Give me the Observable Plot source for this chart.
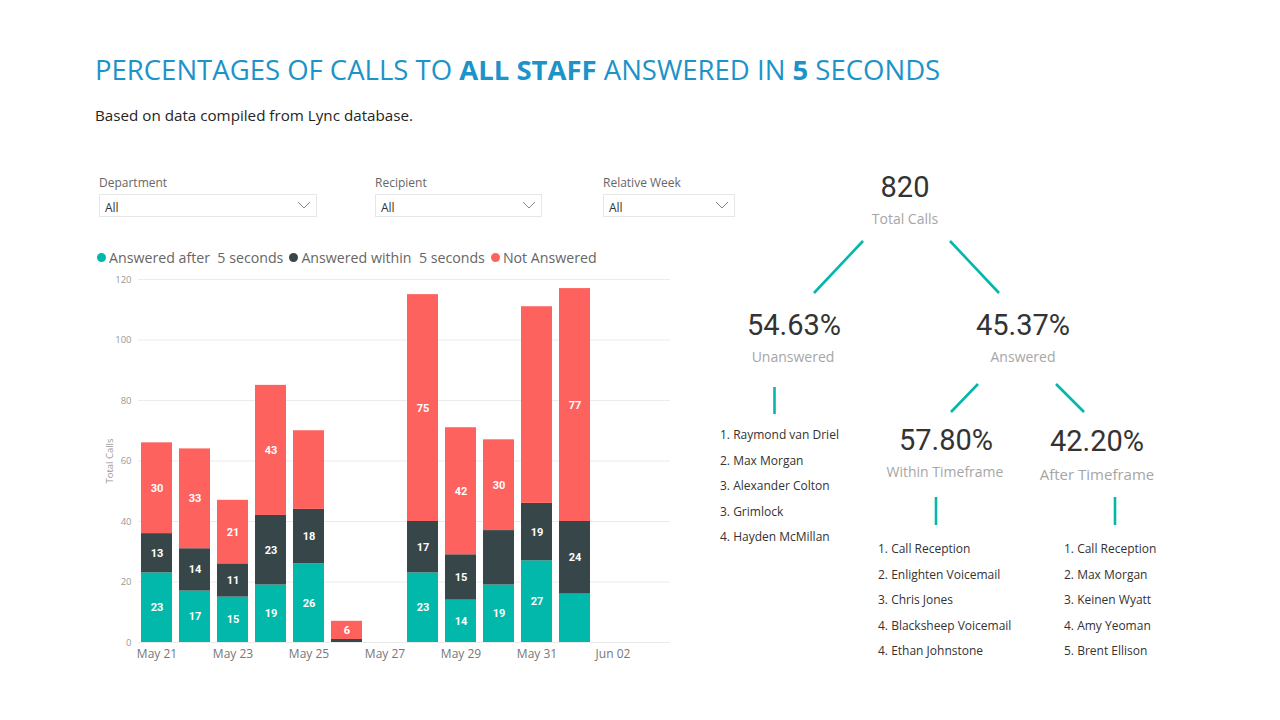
<!DOCTYPE html>
<html>
<head>
<meta charset="utf-8">
<script src="https://cdn.jsdelivr.net/npm/d3@7"></script>
<script src="https://cdn.jsdelivr.net/npm/@observablehq/plot@0.6"></script>
<style>
  html, body { margin: 0; padding: 0; background: #fff; }
  #page { position: relative; width: 1280px; height: 720px; overflow: hidden; font-family: "Open Sans", sans-serif; }
  .abs { position: absolute; white-space: nowrap; }
  .title { left: 95px; top: 51px; font-size: 27.5px; color: #1c93c9; letter-spacing: 0px; }
  .title b { font-weight: 700; }
  .subtitle { left: 95px; top: 105px; font-size: 15.2px; color: #252525; }
  .slabel { font-size: 12px; color: #666; }
  .sbox { height: 23px; border: 1px solid #e6e6e6; box-sizing: border-box; font-size: 12px; color: #333; }
  .sbox span { position: absolute; left: 5px; top: 4px; }
  .sbox svg { position: absolute; right: 5px; top: 6px; }
  .legend { left: 97px; top: 248px; font-size: 14.2px; color: #666; display: flex; gap: 6px; }
  .legend .item { display: flex; align-items: center; }
  .legend .dot { width: 9px; height: 9px; border-radius: 50%; margin-right: 3px; display: inline-block; }
  .big { font-family: "Roboto", sans-serif; font-size: 29px; color: #333; transform: translate(-50%, -50%); line-height: 1; }
  .cap { font-family: "Open Sans", sans-serif; font-size: 14px; color: #a6a6a6; transform: translate(-50%, -50%); line-height: 1; }
  .list { font-size: 12px; color: #333; transform: translateY(-50%); line-height: 1; }
</style>
</head>
<body>
<div id="page">
  <div class="abs title">PERCENTAGES OF CALLS TO <b>ALL STAFF</b> ANSWERED IN <b>5</b> SECONDS</div>
  <div class="abs subtitle">Based on data compiled from Lync database.</div>
  <div id="slicers"></div>
  <div class="abs legend" id="legend"></div>
  <div class="abs" id="chart" style="left:0px; top:265px;"></div>
  <div id="tree"></div>
</div>
<script>
// ---------- data ----------
const days = ["May 21","May 22","May 23","May 24","May 25","May 26","May 27","May 28","May 29","May 30","May 31","Jun 01","Jun 02","Jun 03"];
const tickLabels = ["May 21","May 23","May 25","May 27","May 29","May 31","Jun 02"];
const seriesNames = ["Answered after  5 seconds","Answered within  5 seconds","Not Answered"];
const seriesColors = ["#01B8AA","#374649","#FD625E"];
const answeredAfter  = [23,17,15,19,26,0,null,23,14,19,27,16,null,null];
const answeredWithin = [13,14,11,23,18,1,null,17,15,18,19,24,null,null];
const notAnswered    = [30,33,21,43,26,6,null,75,42,30,65,77,null,null];
// data labels that the original chart does not display
const hiddenLabels = [
  ["Not Answered","May 25"],
  ["Not Answered","May 31"],
  ["Answered within  5 seconds","May 26"],
  ["Answered within  5 seconds","May 30"],
  ["Answered after  5 seconds","Jun 01"],
  ["Answered after  5 seconds","May 26"]
];
const yTicks = [0,20,40,60,80,100,120];

const slicers = [
  {label: "Department", value: "All"},
  {label: "Recipient", value: "All"},
  {label: "Relative Week", value: "All"}
];
const kpiTotal = {value: "820", caption: "Total Calls"};
const kpiUnanswered = {value: "54.63%", caption: "Unanswered"};
const kpiAnswered = {value: "45.37%", caption: "Answered"};
const kpiWithin = {value: "57.80%", caption: "Within Timeframe"};
const kpiAfter = {value: "42.20%", caption: "After Timeframe"};
const unansweredList = ["1. Raymond van Driel","2. Max Morgan","3. Alexander Colton","3. Grimlock","4. Hayden McMillan"];
const withinList = ["1. Call Reception","2. Enlighten Voicemail","3. Chris Jones","4. Blacksheep Voicemail","4. Ethan Johnstone"];
const afterList = ["1. Call Reception","2. Max Morgan","3. Keinen Wyatt","4. Amy Yeoman","5. Brent Ellison"];

// ---------- table ----------
const seriesValues = [answeredAfter, answeredWithin, notAnswered];
const rows = [];
seriesNames.forEach((s, si) => {
  days.forEach((d, di) => {
    const v = seriesValues[si][di];
    if (v != null) rows.push({series: s, day: d, value: v});
  });
});
const isHidden = (r) => hiddenLabels.some(([s, d]) => s === r.series && d === r.day) || r.value === 0;

// ---------- slicers ----------
const slicerPos = [{x: 99, w: 218}, {x: 375, w: 167}, {x: 603, w: 132}];
const slHost = document.getElementById("slicers");
slicers.forEach((s, i) => {
  const p = slicerPos[i];
  const lab = document.createElement("div");
  lab.className = "abs slabel";
  lab.style.left = p.x + "px"; lab.style.top = "174px";
  lab.textContent = s.label;
  slHost.appendChild(lab);
  const box = document.createElement("div");
  box.className = "abs sbox";
  box.style.left = p.x + "px"; box.style.top = "194px"; box.style.width = p.w + "px";
  box.innerHTML = `<span>${s.value}</span><svg width="14" height="9"><polyline points="1,1 7,7 13,1" fill="none" stroke="#888" stroke-width="1"/></svg>`;
  slHost.appendChild(box);
});

// ---------- legend ----------
const lg = document.getElementById("legend");
seriesNames.forEach((s, i) => {
  const it = document.createElement("div");
  it.className = "item";
  it.innerHTML = `<span class="dot" style="background:${seriesColors[i]}"></span><span style="white-space:pre">${s}</span>`;
  lg.appendChild(it);
});

// ---------- chart ----------
const chart = Plot.plot({
  width: 700,
  height: 402,
  marginLeft: 138,
  marginRight: 30,
  marginTop: 14,
  marginBottom: 25,
  style: {fontFamily: "Open Sans, sans-serif", background: "transparent"},
  x: {domain: days, paddingInner: 0.18, paddingOuter: 0.09},
  y: {domain: [0, 120]},
  color: {domain: seriesNames, range: seriesColors},
  marks: [
    Plot.gridY(yTicks, {stroke: "#ebebeb", strokeOpacity: 1, strokeWidth: 1}),
    Plot.axisY({ticks: yTicks, tickSize: 0, tickPadding: 7, fontSize: 9.5, color: "#999",
      label: "Total Calls", labelAnchor: "center", labelArrow: "none", labelOffset: 32}),
    Plot.axisX({ticks: tickLabels, tickSize: 0, tickPadding: 7, fontSize: 12, color: "#777", label: null}),
    Plot.barY(rows, Plot.stackY({x: "day", y: "value", fill: "series", z: "series"})),
    Plot.text(rows, Plot.stackY({x: "day", y: "value", z: "series",
      text: (d) => isHidden(d) ? "" : String(d.value),
      fill: "white", fontWeight: "bold", fontSize: 11, fontFamily: "Roboto, sans-serif"}))
  ]
});
document.getElementById("chart").appendChild(chart);

// ---------- decomposition tree ----------
const tree = document.getElementById("tree");
function addText(cls, txt, x, y, extra) {
  const el = document.createElement("div");
  el.className = "abs " + cls;
  el.style.left = x + "px"; el.style.top = y + "px";
  if (extra) Object.assign(el.style, extra);
  el.textContent = txt;
  tree.appendChild(el);
}
addText("big", kpiTotal.value, 905, 187);
addText("cap", kpiTotal.caption, 905, 219);
addText("big", kpiUnanswered.value, 794, 325);
addText("cap", kpiUnanswered.caption, 793, 357);
addText("big", kpiAnswered.value, 1023, 325);
addText("cap", kpiAnswered.caption, 1023, 357);
addText("big", kpiWithin.value, 946, 440);
addText("cap", kpiWithin.caption, 945, 472);
addText("big", kpiAfter.value, 1097, 441);
addText("cap", kpiAfter.caption, 1097, 474, {fontSize: "15px"});
const listYs1 = [435, 461, 486, 512, 537];
const listYs2 = [549, 575, 600, 626, 651];
unansweredList.forEach((t, i) => addText("list", t, 720, listYs1[i]));
withinList.forEach((t, i) => addText("list", t, 878, listYs2[i]));
afterList.forEach((t, i) => addText("list", t, 1064, listYs2[i]));

const connectors = [
  [863, 241, 814, 293], [950, 241, 999, 293],
  [774.5, 387, 774.5, 414],
  [978, 384, 951, 412], [1056, 384, 1084, 412],
  [936, 497, 936, 525], [1115, 497, 1115, 525]
];
const svgNS = "http://www.w3.org/2000/svg";
const svg = document.createElementNS(svgNS, "svg");
svg.setAttribute("width", 1280); svg.setAttribute("height", 720);
svg.style.position = "absolute"; svg.style.left = "0"; svg.style.top = "0"; svg.style.pointerEvents = "none";
connectors.forEach(([x1, y1, x2, y2]) => {
  const l = document.createElementNS(svgNS, "line");
  l.setAttribute("x1", x1); l.setAttribute("y1", y1); l.setAttribute("x2", x2); l.setAttribute("y2", y2);
  l.setAttribute("stroke", "#01B8AA"); l.setAttribute("stroke-width", 2.6);
  svg.appendChild(l);
});
tree.appendChild(svg);
</script>
</body>
</html>
